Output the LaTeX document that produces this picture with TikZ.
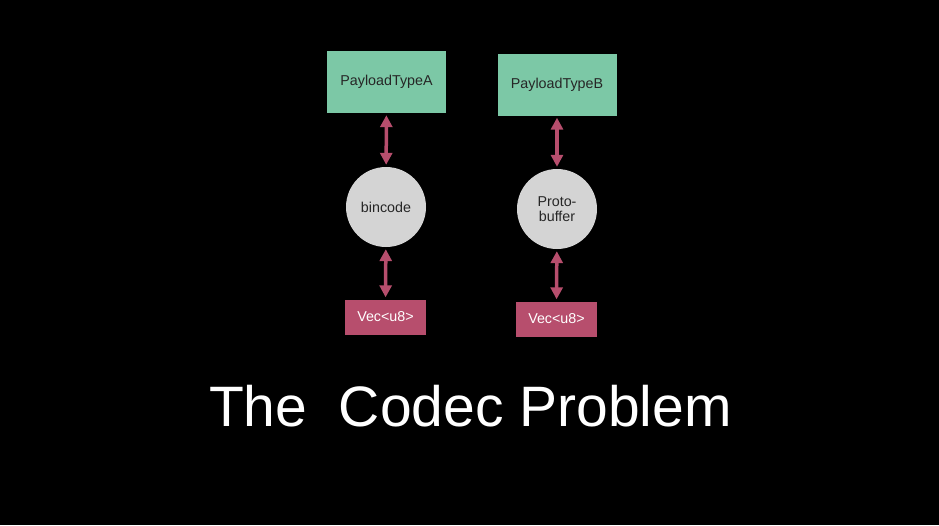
\documentclass[tikz,border=0pt]{standalone}
\usepackage{fontspec}
\setmainfont{Liberation Sans}
\usetikzlibrary{arrows.meta}
\definecolor{mint}{RGB}{124,200,166}
\definecolor{rose}{RGB}{183,78,109}
\definecolor{disc}{RGB}{212,212,212}
\tikzset{
  x=1pt,y=-1pt,
  payload/.style={draw=none,fill=mint,minimum width=119pt,minimum height=62pt,font=\fontsize{14.3}{15}\selectfont,text=black!85},
  codec/.style={circle,draw=none,fill=disc,minimum size=80pt,font=\fontsize{14.3}{15}\selectfont,text=black!85,align=center,inner sep=0pt},
  bytes/.style={draw=none,fill=rose,minimum width=81pt,minimum height=35pt,font=\fontsize{14.3}{15}\selectfont,text=white},
  link/.style={draw=rose,line width=3.5pt,{Triangle[length=12pt,width=12pt]}-{Triangle[length=12pt,width=12pt]},shorten >=2pt,shorten <=2pt}
}
\begin{document}
\begin{tikzpicture}
\fill[black] (0,0) rectangle (939,525);
\useasboundingbox (0,0) rectangle (939,525);
\node[payload] (pa) at (386.5,82) {PayloadTypeA};
\node[payload] (pb) at (557,84.5) {PayloadTypeB};
\node[codec] (ca) at (386,207) {bincode};
\node[codec] (cb) at (557,209) {Proto-\\[0.5pt]buffer};
\node[bytes] (va) at (385.5,317) {Vec<u8>};
\node[bytes] (vb) at (556.5,319) {Vec<u8>};
\draw[link] (pa) -- (ca);
\draw[link] (ca) -- (va);
\draw[link] (pb) -- (cb);
\draw[link] (cb) -- (vb);
\node[text=white,font=\fontsize{57}{62}\selectfont] (title) at (470.5,406) {The\ \ Codec Problem};
\end{tikzpicture}
\end{document}
